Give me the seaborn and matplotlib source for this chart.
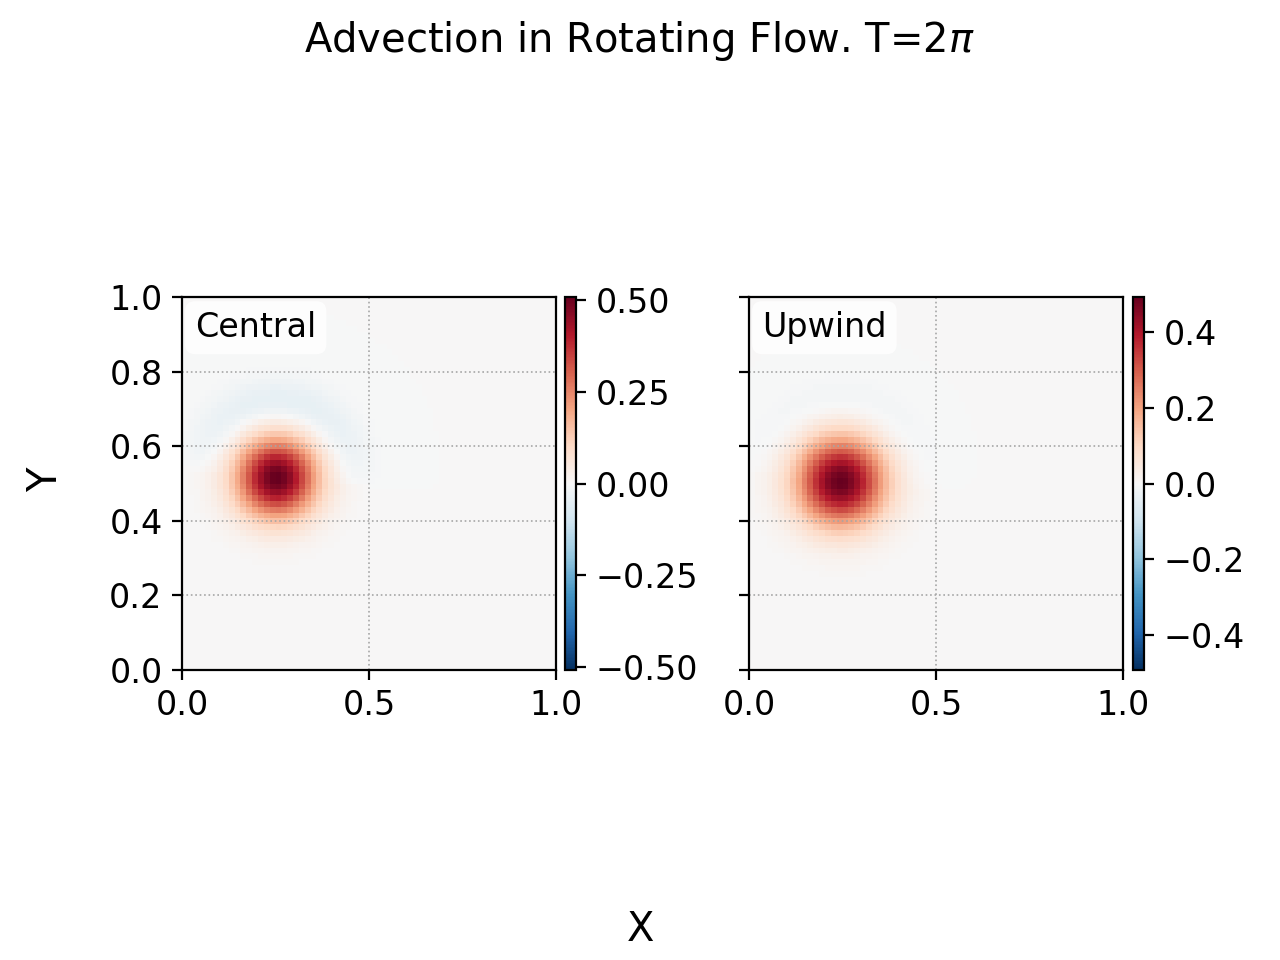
import numpy as np
import matplotlib
matplotlib.use('Agg')
import matplotlib.pyplot as plt
import seaborn as sns

# values
schemes = ['Central', 'Upwind']
peak = [0.512, 0.494]          # top of each colour bar = max |q|
center_x = [0.253, 0.245]
center_y = [0.515, 0.505]
width = [0.075, 0.082]
wake_amp = [-0.055, -0.022]    # faint blue arc above the pulse
wake_radius = [0.2, 0.21]
wake_width = [0.045, 0.045]
cbar_ticks = [[-0.5, -0.25, 0.0, 0.25, 0.5], [-0.4, -0.2, 0.0, 0.2, 0.4]]
x_ticks = [0.0, 0.5, 1.0]
y_ticks = [0.0, 0.2, 0.4, 0.6, 0.8, 1.0]
n_cells = 64

# build the fields on the cell centres
xc = (np.arange(n_cells) + 0.5) / n_cells
X, Y = np.meshgrid(xc, xc)
fields = []
for i in range(len(schemes)):
    dx = X - center_x[i]
    dy = Y - center_y[i]
    r = np.sqrt(dx**2 + dy**2)
    theta = np.arctan2(dy, dx)
    q = peak[i] * np.exp(-r**2 / (2 * width[i]**2))
    arc = np.sqrt(np.clip(np.sin(theta + 0.1), 0, None))
    q += wake_amp[i] * np.exp(-(r - wake_radius[i])**2 / (2 * wake_width[i]**2)) * arc
    fields.append(q)

fig = plt.figure(figsize=(6.4, 4.8), dpi=200)

ax_pos = [[0.1422, 0.3021, 0.2922, 0.3885], [0.5852, 0.3021, 0.2922, 0.3885]]
cax_pos = [[0.4414, 0.3021, 0.0086, 0.3885], [0.8852, 0.3021, 0.0086, 0.3885]]

for i, name in enumerate(schemes):
    ax = fig.add_axes(ax_pos[i])
    cax = fig.add_axes(cax_pos[i])
    vmax = np.abs(fields[i]).max()
    sns.heatmap(fields[i], ax=ax, cbar_ax=cax, cmap='RdBu_r', vmin=-vmax, vmax=vmax,
                xticklabels=False, yticklabels=False,
                cbar_kws={'ticks': cbar_ticks[i]})
    ax.set_xlim(0, n_cells)
    ax.set_ylim(0, n_cells)
    for sp in ax.spines.values():
        sp.set_visible(True)
        sp.set_linewidth(0.8)
        sp.set_color('black')
    ax.set_xticks(np.array(x_ticks) * n_cells)
    ax.set_xticklabels([f'{t:.1f}' for t in x_ticks])
    ax.set_yticks(np.array(y_ticks) * n_cells)
    if i == 0:
        ax.set_yticklabels([f'{t:.1f}' for t in y_ticks])
    else:
        ax.set_yticklabels([])
    ax.tick_params(axis='both', which='major', labelsize=12, length=3.5, width=0.8,
                   direction='out', rotation=0)
    ax.grid(True, linestyle=':', linewidth=0.6, color='0.65')
    ax.text(0.035, 0.962, name, transform=ax.transAxes, fontsize=12, va='top', ha='left',
            bbox=dict(boxstyle='round,pad=0.3', facecolor='white', edgecolor='none', alpha=0.8))

    cbar = ax.collections[0].colorbar
    cbar.outline.set_visible(True)
    cbar.outline.set_linewidth(0.8)
    cbar.outline.set_edgecolor('black')
    cbar.ax.tick_params(labelsize=12, length=3.5, width=0.8)

fig.suptitle(r'Advection in Rotating Flow. T=2$\pi$', fontsize=14.4)
fig.supxlabel('X', fontsize=14.4)
fig.supylabel('Y', fontsize=14.4)

plt.savefig('out.png', dpi=200)
plt.close()
